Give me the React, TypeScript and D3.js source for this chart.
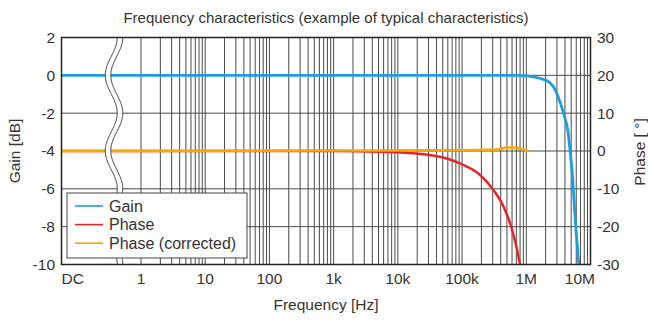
import React from "react";
import * as d3 from "d3";

const titleText = "Frequency characteristics (example of typical characteristics)";
const xTickValues = [0, 1, 10, 100, 1e3, 1e4, 1e5, 1e6, 1e7];
const xTickLabels = ["DC", "1", "10", "100", "1k", "10k", "100k", "1M", "10M"];
const gainTicks = [2, 0, -2, -4, -6, -8, -10];
const phaseTicks = [30, 20, 10, 0, -10, -20, -30];

const gainFreq = [0, 1, 1e5, 7e5, 1.04e6, 1.3e6, 1.66e6, 2.4e6, 2.85e6, 3.4e6, 4.08e6, 4.43e6, 4.8e6, 5.2e6, 5.84e6, 6.57e6];
const gainDb = [0, 0, 0, 0, -0.03, -0.08, -0.17, -0.43, -0.79, -1.47, -2.37, -2.9, -3.96, -5.17, -7.82, -9.93];

const phaseFreq = [0, 1, 1000, 5300, 17600, 58000, 106000, 193000, 311000, 446000, 603000, 721000, 791000];
const phaseDeg = [0, 0, 0, -0.2, -0.6, -2.0, -3.75, -6.4, -10.4, -14.8, -20.9, -26.2, -29.7];

const corrFreq = [0, 1, 1000, 30000, 100000, 350000, 500000, 640000, 810000, 1.05e6];
const corrDeg = [0, 0, 0.1, 0.2, 0.2, 0.4, 0.9, 0.9, 0.66, 0.0];

const W = 648, H = 321;
const L = 61.5, R = 590.5, T = 37.5, B = 264.5;

export default function App() {
  const x = d3.scaleLog().domain([1, 1e7]).range([141, R]);
  const xp = (f: number) => (f === 0 ? L : x(f));
  const yG = d3.scaleLinear().domain([-10, 2]).range([B, T]);
  const yP = d3.scaleLinear().domain([-30, 30]).range([B, T]);

  const grid: number[] = [];
  for (let n = 0; n <= 6; n++) for (let k = 1; k <= 9; k++) grid.push(k * Math.pow(10, n));

  const mk = (fs: number[], vs: number[], y: (v: number) => number) =>
    d3.line<number>().x((_, i) => xp(fs[i])).y((v) => y(v)).curve(d3.curveMonotoneX)(vs) || "";

  // axis break wave
  const cx = (y: number) => 114 + 6 * Math.cos((2 * Math.PI * (y - T)) / 75.5);
  const ys = d3.range(T, B + 0.01, 1);
  const leftPts = ys.map((y) => [cx(y) - 2.75, y] as [number, number]);
  const rightPts = ys.map((y) => [cx(y) + 2.75, y] as [number, number]);
  const ln = d3.line();
  const fillPath = ln([...leftPts, ...rightPts.slice().reverse()]) + "Z";

  const font = "'Liberation Sans', Arial, Helvetica, sans-serif";
  const tc = "#333";
  const fs = 15.5;

  return (
    <svg width={W} height={H} style={{ position: "fixed", left: 0, top: 0, background: "#fff" }} fontFamily={font}>
      <defs>
        <clipPath id="pc">
          <rect x={L} y={T} width={R - L} height={B - T} />
        </clipPath>
      </defs>
      <text x={326} y={23} textAnchor="middle" fontSize={15} fill={tc}>{titleText}</text>
      {grid.map((g) => (
        <line key={g} x1={x(g)} x2={x(g)} y1={T} y2={B} stroke="#4a4a4a" strokeWidth={1} />
      ))}
      {gainTicks.map((g) => (
        <line key={"h" + g} x1={L} x2={R} y1={yG(g)} y2={yG(g)} stroke="#4a4a4a" strokeWidth={1} />
      ))}
      <g clipPath="url(#pc)" fill="none" strokeLinejoin="round" strokeLinecap="round">
        <path d={mk(phaseFreq, phaseDeg, yP)} stroke="#e3262b" strokeWidth={2.5} />
        <path d={mk(corrFreq, corrDeg, yP)} stroke="#f5a800" strokeWidth={2.5} />
        <path d={mk(gainFreq, gainDb, yG)} stroke="#1a9ee0" strokeWidth={2.8} />
      </g>
      <path d={fillPath} fill="#fff" stroke="none" />
      <path d={ln(leftPts) || ""} fill="none" stroke="#333" strokeWidth={1} />
      <path d={ln(rightPts) || ""} fill="none" stroke="#333" strokeWidth={1} />
      <rect x={L} y={T} width={R - L} height={B - T} fill="none" stroke="#222" strokeWidth={1.5} />
      {gainTicks.map((g) => (
        <text key={"gl" + g} x={55} y={yG(g)} dy="0.35em" textAnchor="end" fontSize={fs} fill={tc}>{g}</text>
      ))}
      {phaseTicks.map((p) => (
        <text key={"pl" + p} x={597} y={yP(p)} dy="0.35em" textAnchor="start" fontSize={fs} fill={tc}>{p}</text>
      ))}
      {xTickValues.map((v, i) => {
        const isFirst = i === 0;
        const isLast = i === xTickValues.length - 1;
        return (
          <text key={"xl" + i} x={isFirst ? L : isLast ? 595 : x(v)} y={284} textAnchor={isFirst ? "start" : isLast ? "end" : "middle"} fontSize={fs} fill={tc}>
            {xTickLabels[i]}
          </text>
        );
      })}
      <text x={326} y={310} textAnchor="middle" fontSize={fs} fill={tc}>Frequency [Hz]</text>
      <text transform="translate(20,151) rotate(-90)" textAnchor="middle" fontSize={fs} fill={tc}>Gain [dB]</text>
      <text transform="translate(645,152) rotate(-90)" textAnchor="middle" fontSize={fs} fill={tc}>Phase [ °]</text>
      <g>
        <rect x={67} y={193} width={180} height={65} fill="#fff" stroke="#444" strokeWidth={1} />
        {[
          { name: "Gain", color: "#1a9ee0" },
          { name: "Phase", color: "#e3262b" },
          { name: "Phase (corrected)", color: "#f5a800" },
        ].map((d, i) => {
          const yy = 206 + i * 18.6;
          return (
            <g key={d.name}>
              <line x1={75} x2={103} y1={yy} y2={yy} stroke={d.color} strokeWidth={1.6} />
              <text x={109} y={yy} dy="0.35em" fontSize={16} fill={tc}>{d.name}</text>
            </g>
          );
        })}
      </g>
    </svg>
  );
}
